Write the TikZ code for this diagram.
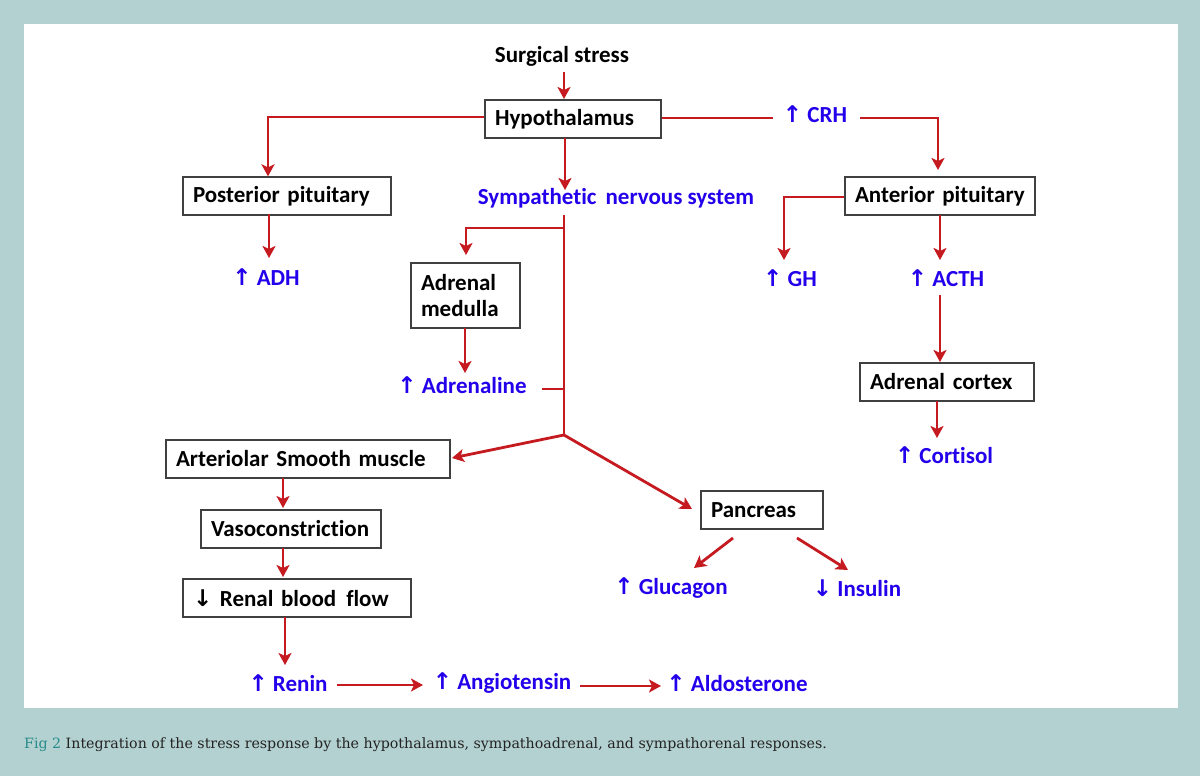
\documentclass[tikz,border=0pt]{standalone}
\usepackage{fontspec}
\setmainfont[Ligatures={NoCommon}]{Carlito}
\newfontfamily\arrowfont{DejaVu Sans}
\newfontfamily\capfont{DejaVu Serif}
\usetikzlibrary{arrows.meta}
\definecolor{panelbg}{RGB}{179,209,208}
\definecolor{linered}{RGB}{196,26,32}
\definecolor{txtblue}{RGB}{35,0,235}
\definecolor{capteal}{RGB}{40,140,140}
\definecolor{capgray}{RGB}{35,35,35}
\newcommand{\uparr}{{\arrowfont\bfseries ↑}}
\newcommand{\downarr}{{\arrowfont\bfseries ↓}}
\tikzset{
  lbl/.style={font=\fontsize{23}{26}\selectfont\bfseries, inner sep=0pt},
  blu/.style={lbl, text=txtblue},
  boxn/.style={lbl, draw=black!75, line width=1.3pt, fill=white, minimum height=38pt, inner xsep=10pt, align=left},
  conn/.style={draw=linered, line width=2.8pt},
  arr/.style={conn, -{Stealth[length=12pt,width=13pt,inset=3pt]}},
}
\begin{document}
\begin{tikzpicture}[x=1pt,y=-1pt]
\fill[panelbg] (0,0) rectangle (1200,776);
\fill[white] (24,24) rectangle (1178,708);
\useasboundingbox (0,0) rectangle (1200,776);

% boxes
\node[boxn, text width=156pt] (hyp) at (573,119) {Hypothalamus};
\node[boxn, text width=188pt] (pp) at (287,196) {Posterior pituitary};
\node[boxn, text width=170pt] (ap) at (940,196) {Anterior pituitary};
\node[boxn, text width=89pt, minimum height=65pt] (am) at (465.5,295.5) {Adrenal\\[0pt]medulla};
\node[boxn, text width=154pt] (ac) at (947,382) {Adrenal cortex};
\node[boxn, text width=264pt] (asm) at (308,459) {Arteriolar Smooth muscle};
\node[boxn, text width=160pt] (vaso) at (291,529) {Vasoconstriction};
\node[boxn, text width=208pt] (rbf) at (297,598) {\downarr\ Renal blood\hspace{10pt}flow};
\node[boxn, text width=102pt] (pan) at (762,510) {Pancreas};

% free labels
\node[lbl] (stress) at (562,56) {Surgical stress};
\node[blu] (sns) at (616,198) {Sympathetic\hspace{9pt}nervous system};
\node[blu] (crh) at (815,114) {\uparr\ CRH};
\node[blu] (adh) at (266,277) {\uparr\ ADH};
\node[blu] (gh) at (790,278) {\uparr\ GH};
\node[blu] (acth) at (946,278) {\uparr\ ACTH};
\node[blu] (adr) at (462,385) {\uparr\ Adrenaline};
\node[blu] (cort) at (944,455) {\uparr\ Cortisol};
\node[blu] (glu) at (671,588) {\uparr\ Glucagon};
\node[blu] (ins) at (857,588) {\downarr\ Insulin};
\node[blu] (ren) at (288,683) {\uparr\ Renin};
\node[blu] (ang) at (502,683) {\uparr\ Angiotensin};
\node[blu] (ald) at (737,683) {\uparr\ Aldosterone};

% helper coordinates
\coordinate (ppcorner) at (268,117);
\coordinate (apcorner) at (938,118);
\coordinate (ghcorner) at (784,197);
\coordinate (trunktop) at (564,215);
\coordinate (branch) at (564,228);
\coordinate (amcorner) at (466,228);
\coordinate (adrjoin) at (564,389);
\coordinate (junc) at (564,435);

% connectors
\draw[arr] (564,72) -- (564,99);
\draw[arr] (hyp.west |- 0,117) -- (ppcorner) -- (ppcorner |- pp.north);
\draw[arr] (565,138) -- (565,190);
\draw[conn] (hyp.east |- 0,118) -- (773,118);
\draw[arr] (860,118) -- (apcorner) -- (apcorner |- 0,170);
\draw[arr] (ap.west |- ghcorner) -- (ghcorner) -- (784,260);
\draw[arr] (940,215) -- (940,260);
\draw[conn] (940,295) -- (940,330);
\draw[arr] (940,330) -- (940,362);
\draw[arr] (937,401) -- (937,438);
\draw[arr] (269,214) -- (269,258);
\draw[conn] (trunktop) -- (junc);
\draw[arr] (branch) -- (amcorner) -- (466,255);
\draw[arr] (465,328) -- (465,373);
\draw[conn] (542,389) -- (adrjoin);
\draw[arr] (junc) -- (452,458);
\draw[arr] (junc) -- (692,509);
\draw[arr] (283,478) -- (283,508);
\draw[arr] (283,548) -- (283,577);
\draw[arr] (285,617) -- (285,665);
\draw[arr] (337,685) -- (423,685);
\draw[arr] (580,686) -- (661,686);
\draw[arr] (733,538) -- (694,568);
\draw[arr] (797,538) -- (848,570);

% caption
\node[anchor=west, inner sep=0pt, font=\capfont\fontsize{14.2}{17}\selectfont, text=capgray] (cap) at (24,745)
  {\textcolor{capteal}{Fig 2} Integration of the stress response by the hypothalamus, sympathoadrenal, and sympathorenal responses.};
\end{tikzpicture}
\end{document}
